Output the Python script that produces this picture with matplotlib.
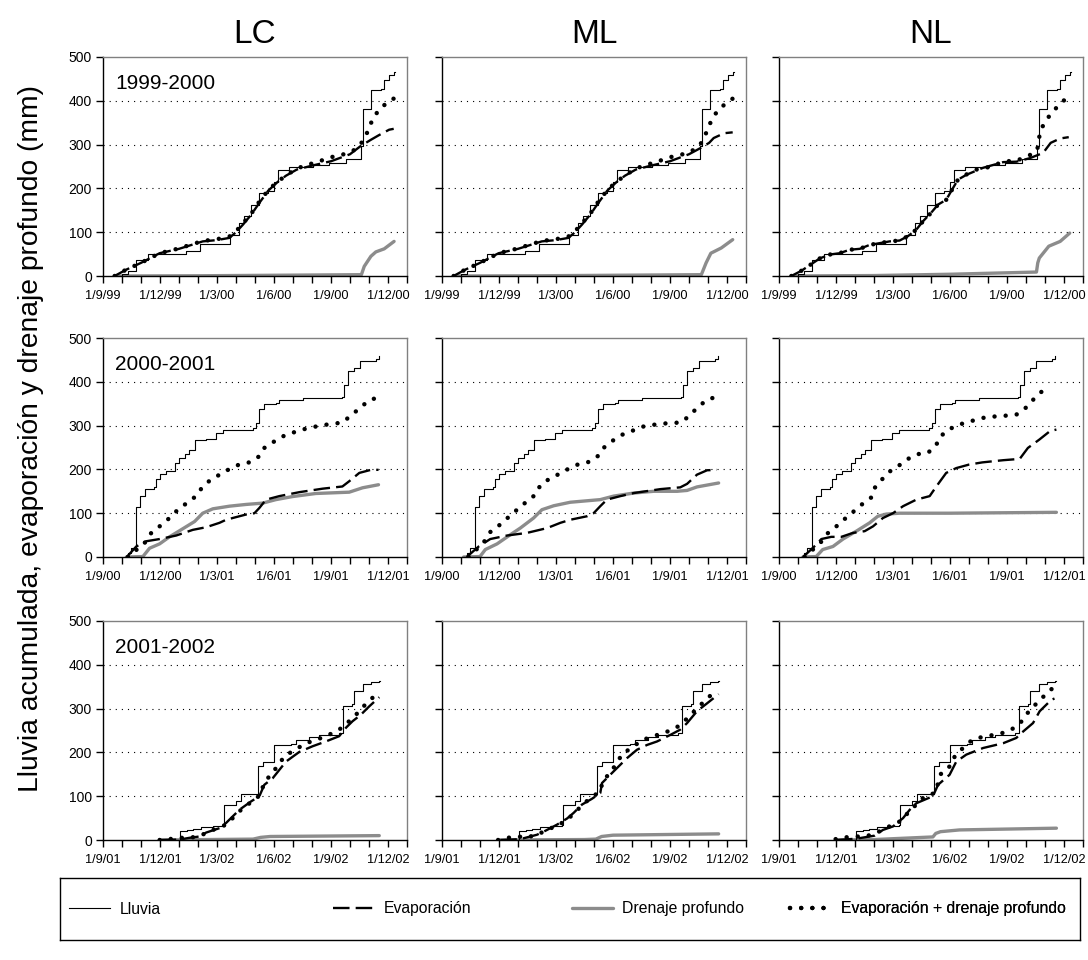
import numpy as np
import matplotlib
matplotlib.use("Agg")
import matplotlib.pyplot as plt
from matplotlib.lines import Line2D

plt.rcParams['font.family'] = ['Liberation Sans', 'DejaVu Sans']

# ---------------- data (x = months after 1 September of first year) ----------------
sites = ["LC", "ML", "NL"]
seasons = ["1999-2000", "2000-2001", "2001-2002"]
xtick_labels_1 = ["1/9/99", "1/12/99", "1/3/00", "1/6/00", "1/9/00", "1/12/00"]
xtick_labels_2 = ["1/9/00", "1/12/00", "1/3/01", "1/6/01", "1/9/01", "1/12/01"]
xtick_labels_3 = ["1/9/01", "1/12/01", "1/3/02", "1/6/02", "1/9/02", "1/12/02"]
yticks = [0, 100, 200, 300, 400, 500]

# cumulative rainfall (same for the three sites in a season)
RAIN_1 = np.array([[0.61, 0], [1.0, 5], [1.31, 12], [1.75, 36], [2.36, 50], [4.38, 58], [5.08, 72],
                   [6.69, 94], [7.18, 121], [7.44, 136], [7.79, 161], [8.23, 190], [8.67, 193],
                   [9.02, 215], [9.23, 243], [9.81, 248], [11.03, 253], [11.9, 258], [12.78, 268],
                   [13.57, 297], [13.66, 382], [14.10, 424], [14.62, 428], [14.80, 448],
                   [15.06, 460], [15.32, 465], [15.35, 465]])
RAIN_2 = np.array([[1.14, 0], [1.3, 10], [1.49, 21], [1.75, 114], [1.95, 140], [2.19, 155], [2.71, 160],
                   [2.8, 178], [2.98, 190], [3.3, 197], [3.77, 215], [4.0, 225], [4.3, 235],
                   [4.55, 245], [4.82, 267], [5.4, 270], [5.95, 282], [6.3, 291], [7.88, 294],
                   [8.06, 306], [8.2, 339], [8.49, 350], [9.1, 352], [9.28, 358], [10.5, 363],
                   [12.6, 366], [12.7, 393], [12.87, 425], [13.2, 432], [13.5, 448], [14.36, 452],
                   [14.5, 460], [14.53, 460]])
RAIN_3 = np.array([[2.98, 0], [3.5, 1], [4.03, 20], [4.4, 22], [4.73, 25], [5.17, 30], [5.8, 32],
                   [6.3, 35], [6.39, 79], [7.0, 90], [7.27, 106], [8.14, 170], [8.4, 178],
                   [9.02, 216], [9.9, 220], [10.16, 229], [10.86, 236], [11.38, 240], [12.43, 245],
                   [12.61, 305], [13.13, 310], [13.22, 340], [13.66, 357], [14.1, 360],
                   [14.54, 364], [14.57, 364]])

# ---- 1999-2000 ----
LC1_EVAP = np.array([[0.61, 0], [1.2, 14], [2.0, 30], [2.98, 52], [4.0, 62], [5.25, 79], [6.0, 82],
                     [6.65, 87], [7.0, 100], [7.36, 117], [7.8, 140], [8.23, 167], [8.7, 195],
                     [9.2, 215], [9.63, 229], [10.2, 243], [11.0, 252], [12.0, 262], [13.0, 278],
                     [13.57, 297], [14.1, 311], [14.5, 321], [15.06, 334], [15.3, 336]])
LC1_SUM = np.array([[0.61, 0], [1.2, 14], [2.0, 30], [2.98, 52], [4.0, 63], [5.25, 80], [6.0, 84],
                    [6.65, 90], [7.0, 102], [7.36, 120], [7.8, 142], [8.23, 170], [8.7, 196],
                    [9.2, 216], [9.63, 229], [10.1, 243], [10.6, 252], [11.1, 258], [12.08, 272],
                    [12.6, 277], [13.13, 285], [13.5, 297], [13.75, 314], [14.0, 336],
                    [14.19, 359], [14.54, 380], [15.01, 398], [15.3, 405]])
LC1_DRAIN = np.array([[0.61, 0], [5.0, 0.5], [13.6, 3], [13.75, 22], [14.1, 45], [14.36, 55],
                      [14.8, 62], [15.32, 79]])

ML1_EVAP = np.array([[0.61, 0], [1.2, 14], [2.0, 30], [2.98, 52], [4.0, 62], [5.25, 79], [6.0, 82],
                     [6.65, 87], [7.0, 100], [7.36, 117], [7.8, 140], [8.23, 167], [8.7, 195],
                     [9.2, 215], [9.63, 229], [10.2, 243], [11.0, 252], [12.0, 262], [13.0, 278],
                     [13.6, 292], [14.06, 304], [14.3, 315], [14.85, 326], [15.3, 328]])
ML1_SUM = np.array([[0.61, 0], [1.2, 14], [2.0, 30], [2.98, 52], [4.0, 63], [5.25, 80], [6.0, 84],
                    [6.65, 90], [7.0, 102], [7.36, 120], [7.8, 142], [8.23, 170], [8.7, 196],
                    [9.2, 216], [9.63, 229], [10.1, 243], [10.6, 252], [11.1, 258], [12.08, 272],
                    [12.6, 277], [13.13, 285], [13.55, 297], [13.76, 313], [14.0, 336],
                    [14.2, 358], [14.55, 380], [15.03, 397], [15.3, 405]])
ML1_DRAIN = np.array([[0.61, 0], [5.0, 0.5], [13.65, 3], [13.9, 30], [14.15, 52], [14.7, 64],
                      [15.3, 83]])

NL1_EVAP = np.array([[0.65, 0], [1.18, 12], [1.7, 27], [2.14, 40], [2.67, 49], [3.19, 52], [3.72, 60],
                     [4.25, 62], [4.77, 71], [5.3, 75], [5.82, 79], [6.35, 81], [6.79, 91],
                     [7.23, 106], [7.58, 125], [8.0, 144], [8.37, 163], [8.8, 174], [9.16, 201],
                     [9.42, 220], [9.86, 231], [10.74, 247], [11.8, 260], [12.5, 261], [13.2, 269],
                     [13.9, 281], [14.3, 304], [14.8, 314], [15.25, 317]])
NL1_SUM = np.array([[0.65, 0], [1.18, 12], [1.7, 27], [2.14, 40], [2.67, 49], [3.19, 52], [3.72, 60],
                    [4.25, 62], [4.77, 71], [5.3, 75], [5.82, 79], [6.35, 81], [6.79, 91],
                    [7.23, 106], [7.58, 125], [8.0, 144], [8.37, 163], [8.8, 174], [9.16, 201],
                    [9.42, 220], [9.95, 234], [10.39, 243], [10.91, 247], [11.35, 254],
                    [11.96, 262], [12.49, 263], [12.98, 272], [13.46, 281], [13.6, 290],
                    [13.72, 323], [13.9, 344], [14.25, 367], [14.7, 389], [15.1, 405], [15.25, 408]])
NL1_DRAIN = np.array([[0.65, 0], [5.0, 1], [9.0, 4], [13.55, 9], [13.62, 30], [13.7, 41],
                      [14.2, 68], [14.8, 79], [15.3, 98]])

# ---- 2000-2001 ----
LC2_EVAP = np.array([[1.25, 0], [1.75, 24], [2.28, 36], [2.98, 41], [3.85, 49], [4.73, 62], [5.43, 68],
                     [6.13, 78], [6.48, 85], [7.0, 91], [7.53, 97], [7.97, 100], [8.23, 112],
                     [8.58, 131], [9.28, 139], [10.33, 148], [11.56, 156], [12.6, 161], [12.96, 173],
                     [13.49, 192], [14.1, 199], [14.5, 199]])
LC2_SUM = np.array([[1.31, 0], [2.19, 32], [2.54, 55], [2.98, 70], [3.5, 89], [3.94, 108], [4.47, 125],
                    [4.9, 139], [5.25, 161], [5.69, 177], [6.22, 190], [6.74, 203], [7.27, 213],
                    [7.7, 216], [8.23, 230], [8.49, 249], [9.02, 264], [9.54, 277], [10.07, 285],
                    [10.6, 292], [11.1, 297], [11.56, 301], [12.08, 304], [12.6, 307], [13.05, 323],
                    [13.49, 339], [13.98, 357], [14.5, 365]])
LC2_DRAIN = np.array([[1.23, 0], [2.1, 1], [2.45, 20], [2.98, 30], [3.5, 46], [4.03, 60], [4.82, 81],
                      [5.25, 100], [5.78, 110], [6.65, 116], [7.53, 120], [8.4, 123], [9.1, 131],
                      [9.98, 138], [11.2, 145], [12.96, 148], [13.66, 158], [14.5, 165]])

ML2_EVAP = np.array([[1.3, 0], [1.93, 24], [2.54, 41], [3.42, 49], [4.47, 55], [5.53, 66], [6.23, 78],
                     [6.75, 85], [7.63, 93], [7.98, 100], [8.33, 116], [8.68, 131], [9.39, 139],
                     [10.09, 146], [11.5, 155], [12.54, 159], [12.9, 167], [13.42, 188],
                     [13.95, 198], [14.47, 199]])
ML2_SUM = np.array([[1.4, 0], [2.19, 33], [2.54, 57], [3.03, 73], [3.5, 91], [3.95, 108], [4.44, 126],
                    [4.91, 142], [5.18, 164], [5.7, 180], [6.19, 190], [6.68, 202], [7.19, 212],
                    [7.72, 217], [8.19, 230], [8.5, 249], [9.0, 266], [9.47, 279], [9.96, 287],
                    [10.49, 297], [11.0, 301], [11.5, 304], [12.05, 306], [12.58, 307],
                    [12.98, 321], [13.42, 340], [13.91, 358], [14.44, 366]])
ML2_DRAIN = np.array([[1.14, 0], [2.0, 1], [2.28, 17], [2.9, 30], [3.6, 51], [4.12, 66], [4.82, 89],
                      [5.26, 108], [5.88, 117], [6.75, 125], [8.33, 131], [9.03, 139], [10.09, 146],
                      [11.14, 150], [12.37, 150], [12.9, 152], [13.42, 160], [14.56, 169]])

NL2_EVAP = np.array([[1.26, 0], [1.79, 21], [2.23, 41], [2.75, 46], [3.28, 46], [3.89, 55], [4.51, 59],
                     [4.95, 70], [5.47, 89], [6.0, 100], [6.53, 116], [7.23, 131], [7.93, 139],
                     [8.28, 161], [8.8, 192], [9.33, 203], [10.0, 211], [10.7, 216], [11.8, 221],
                     [12.67, 224], [13.1, 249], [13.7, 268], [14.25, 287], [14.6, 291]])
NL2_SUM = np.array([[1.35, 0], [2.19, 33], [2.53, 53], [3.02, 70], [3.49, 88], [3.93, 104], [4.39, 121],
                    [4.86, 136], [5.04, 158], [5.44, 178], [5.82, 195], [6.32, 209], [6.79, 224],
                    [7.32, 235], [7.81, 237], [8.25, 253], [8.46, 274], [8.93, 291], [9.4, 301],
                    [9.91, 308], [10.44, 314], [10.96, 320], [11.47, 321], [12.02, 323],
                    [12.49, 325], [12.95, 339], [13.33, 357], [13.77, 376], [14.3, 388]])
NL2_DRAIN = np.array([[1.26, 0], [1.96, 1], [2.3, 17], [2.84, 24], [3.37, 41], [4.07, 59], [4.77, 78],
                      [5.2, 93], [5.65, 98], [6.35, 100], [8.98, 100], [14.6, 102]])

# ---- 2001-2002 ----
LC3_EVAP = np.array([[2.98, 0], [4.03, 1], [4.55, 5], [5.08, 8], [5.43, 17], [6.13, 27], [6.48, 39],
                     [7.18, 69], [7.79, 88], [8.23, 100], [8.49, 126], [8.93, 141], [9.63, 179],
                     [10.33, 201], [11.03, 214], [11.73, 225], [12.43, 237], [12.78, 256],
                     [13.13, 271], [13.57, 286], [14.01, 305], [14.54, 326]])
LC3_SUM = np.array([[2.98, 0], [3.5, 2], [3.99, 5], [4.5, 5], [5.03, 8], [5.52, 18], [5.95, 26],
                    [6.48, 35], [6.92, 54], [7.36, 73], [7.85, 88], [8.28, 103], [8.44, 125],
                    [8.8, 149], [9.19, 168], [9.54, 191], [10.07, 205], [10.6, 219], [11.07, 227],
                    [11.56, 234], [12.08, 244], [12.57, 256], [13.05, 275], [13.45, 292],
                    [13.84, 311], [14.27, 328], [14.5, 332]])
LC3_DRAIN = np.array([[2.98, 0], [7.9, 2], [8.3, 6], [8.8, 8], [14.54, 10]])

ML3_EVAP = np.array([[3.07, 0], [4.12, 2], [5.0, 12], [5.44, 21], [6.05, 35], [6.58, 49], [6.93, 62],
                     [7.37, 81], [7.89, 94], [8.33, 107], [8.42, 130], [9.04, 157], [9.74, 187],
                     [10.26, 206], [10.79, 217], [11.32, 225], [12.02, 240], [12.54, 252],
                     [12.9, 267], [13.42, 294], [13.95, 312], [14.56, 333]])
ML3_SUM = np.array([[2.95, 0], [3.46, 5], [3.98, 8], [4.47, 6], [5.0, 12], [5.53, 23], [6.05, 33],
                    [6.53, 44], [6.93, 60], [7.32, 77], [7.81, 96], [8.3, 110], [8.46, 132],
                    [8.81, 153], [9.18, 173], [9.47, 196], [10.0, 211], [10.49, 227], [10.98, 235],
                    [11.49, 242], [12.02, 250], [12.54, 262], [12.98, 281], [13.39, 299],
                    [13.86, 319], [14.26, 335], [14.5, 340]])
ML3_DRAIN = np.array([[3.0, 0], [7.5, 1], [8.1, 2], [8.4, 8], [9.0, 11], [14.56, 14]])

NL3_EVAP = np.array([[3.0, 0], [4.07, 3], [5.04, 10], [5.47, 23], [6.0, 31], [6.53, 50], [6.88, 69],
                     [7.23, 84], [8.1, 100], [8.37, 126], [8.98, 149], [9.33, 179], [9.86, 195],
                     [10.74, 210], [11.8, 221], [12.49, 233], [12.75, 244], [13.37, 267],
                     [13.72, 294], [14.33, 320], [14.5, 323]])
NL3_SUM = np.array([[2.98, 2], [3.49, 6], [4.02, 8], [4.51, 8], [5.04, 14], [5.47, 24], [6.0, 35],
                    [6.44, 44], [6.84, 65], [7.23, 81], [7.67, 100], [8.19, 107], [8.37, 129],
                    [8.54, 153], [9.04, 170], [9.25, 191], [9.68, 210], [10.18, 229], [10.68, 235],
                    [11.18, 239], [11.74, 244], [12.23, 252], [12.7, 267], [13.0, 286],
                    [13.4, 305], [13.84, 324], [14.28, 343], [14.5, 348]])
NL3_DRAIN = np.array([[2.98, 0], [5.0, 1], [8.1, 7], [8.25, 15], [8.5, 19], [9.5, 23], [14.6, 27]])

rain_rows = [RAIN_1, RAIN_2, RAIN_3]
xlabels_rows = [xtick_labels_1, xtick_labels_2, xtick_labels_3]
panels = [
    [(LC1_EVAP, LC1_DRAIN, LC1_SUM), (ML1_EVAP, ML1_DRAIN, ML1_SUM), (NL1_EVAP, NL1_DRAIN, NL1_SUM)],
    [(LC2_EVAP, LC2_DRAIN, LC2_SUM), (ML2_EVAP, ML2_DRAIN, ML2_SUM), (NL2_EVAP, NL2_DRAIN, NL2_SUM)],
    [(LC3_EVAP, LC3_DRAIN, LC3_SUM), (ML3_EVAP, ML3_DRAIN, ML3_SUM), (NL3_EVAP, NL3_DRAIN, NL3_SUM)],
]

# ---------------- styles ----------------
W, H = 1088, 960
rain_kw = dict(color='black', lw=0.8, drawstyle='steps-post')
evap_kw = dict(color='black', lw=1.7, linestyle=(0, (7, 2.6)))
drain_kw = dict(color='#8c8c8c', lw=2.4, solid_capstyle='round')
sum_kw = dict(color='black', lw=3.2, linestyle=(0, (0.01, 2.5)), dash_capstyle='round')

fig = plt.figure(figsize=(W / 100, H / 100), dpi=100)

col_left = [103, 442, 779]
row_top = [57, 338, 621]
aw, ah = 304, 219

for r in range(3):
    for c in range(3):
        ax = fig.add_axes([col_left[c] / W, 1 - (row_top[r] + ah) / H, aw / W, ah / H])
        evap, drain, tot = panels[r][c]
        rain = rain_rows[r]
        ax.plot(drain[:, 0], drain[:, 1], zorder=2, **drain_kw)
        ax.plot(rain[:, 0], rain[:, 1], zorder=3, **rain_kw)
        ax.plot(evap[:, 0], evap[:, 1], zorder=4, **evap_kw)
        ax.plot(tot[:, 0], tot[:, 1], zorder=5, **sum_kw)
        ax.set_xlim(0, 16)
        ax.set_ylim(0, 500)
        ax.set_xticks(range(17))
        labs = [''] * 17
        for i, lab in enumerate(xlabels_rows[r]):
            labs[3 * i] = lab
        ax.set_xticklabels(labs, fontsize=9.2)
        ax.set_yticks(yticks)
        if c == 0:
            ax.set_yticklabels([str(v) for v in yticks], fontsize=10)
        else:
            ax.set_yticklabels([])
        ax.tick_params(direction='out', length=5, width=1, colors='black', pad=3)
        ax.tick_params(axis='x', pad=5)
        for yv in yticks[1:-1]:
            ax.axhline(yv, color='black', lw=0.8, linestyle=(0, (1, 4.5)), zorder=1)
        for s in ['left', 'bottom']:
            ax.spines[s].set_color('black')
            ax.spines[s].set_linewidth(1.0)
        for s in ['top', 'right']:
            ax.spines[s].set_color('#808080')
            ax.spines[s].set_linewidth(1.0)
        if c == 0:
            ax.text(0.04, 0.88, seasons[r], transform=ax.transAxes, fontsize=15,
                    ha='left', va='center')
        if r == 0:
            ax.set_title(sites[c], fontsize=24, pad=10)

fig.text(31 / W, 1 - 438 / H, "Lluvia acumulada, evaporación y drenaje profundo (mm)",
         rotation=90, ha='center', va='center', fontsize=20.3)

# legend box
lax = fig.add_axes([60 / W, 1 - 940 / H, 1020 / W, 62 / H])
lax.set_xticks([]); lax.set_yticks([])
for s in lax.spines.values():
    s.set_color('black'); s.set_linewidth(1.0)
entries = [
    (Line2D([], [], **{k: v for k, v in rain_kw.items() if k != 'drawstyle'}), "Lluvia", 0.009),
    (Line2D([], [], **evap_kw), "Evaporación", 0.268),
    (Line2D([], [], **drain_kw), "Drenaje profundo", 0.502),
    (Line2D([], [], **sum_kw), "Evaporación + drenaje profundo", 0.716),
]
for h, lab, xpos in entries:
    lg = lax.legend([h], [lab], loc='center left', bbox_to_anchor=(xpos, 0.5), frameon=False,
                    fontsize=11.3, handlelength=2.6, handletextpad=0.6, borderpad=0, borderaxespad=0)
    lax.add_artist(lg)

fig.savefig("out.png", dpi=100)
